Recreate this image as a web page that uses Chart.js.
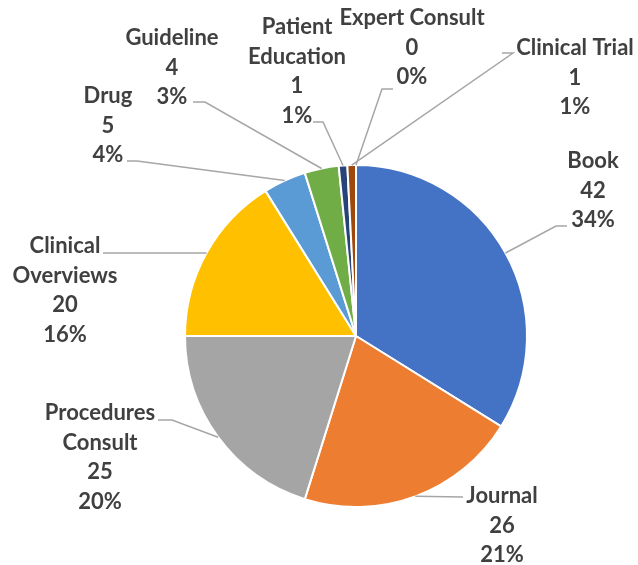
<!DOCTYPE html>
<html>
<head>
  <title>Content Type Pie</title>
  <script src="https://cdn.jsdelivr.net/npm/chart.js"></script>
  <style>
    body { margin: 0; background: #fff; }
  </style>
</head>
<body>
  <canvas id="pieChart" width="638" height="565"></canvas>
  <script>
    // data
    const categories = ['Book', 'Journal', 'Procedures Consult', 'Clinical Overviews', 'Drug',
                        'Guideline', 'Patient Education', 'Clinical Trial', 'Expert Consult'];
    const counts = [42, 26, 25, 20, 5, 4, 1, 1, 0];
    const nameLines = [['Book'], ['Journal'], ['Procedures', 'Consult'], ['Clinical', 'Overviews'], ['Drug'],
                       ['Guideline'], ['Patient', 'Education'], ['Clinical Trial'], ['Expert Consult']];
    const colors = ['#4472C4', '#ED7D31', '#A5A5A5', '#FFC000', '#5B9BD5',
                    '#70AD47', '#264478', '#9E480E', '#636363'];

    // label layout (centre x, first line y) and leader line (label end, elbow)
    const labelPos = [[593, 161], [502, 496], [100, 413], [65, 246], [108, 96],
                      [172, 38], [297, 27], [575, 48], [412, 18]];
    const leaders = [
      [[567, 226], [556, 226]],
      [[463, 497], null],
      [[158, 420], [172, 420]],
      [[103, 253], null],
      [[127, 161], [137, 161]],
      [[193, 102], [205, 102]],
      [[313, 122], [323, 122]],
      [[502, 53], [513, 53]],
      [[393, 89], [382, 89]]
    ];

    const total = counts.reduce((a, b) => a + b, 0);

    const labelPlugin = {
      id: 'pieLabels',
      afterDraw(chart) {
        const ctx = chart.ctx;
        const arcs = chart.getDatasetMeta(0).data;
        ctx.save();
        // leader lines
        ctx.strokeStyle = '#A6A6A6';
        ctx.lineWidth = 1.5;
        arcs.forEach((arc, i) => {
          const mid = (arc.startAngle + arc.endAngle) / 2;
          const ax = arc.x + Math.cos(mid) * arc.outerRadius;
          const ay = arc.y + Math.sin(mid) * arc.outerRadius;
          const [end, elbow] = leaders[i];
          ctx.beginPath();
          ctx.moveTo(end[0], end[1]);
          if (elbow) ctx.lineTo(elbow[0], elbow[1]);
          ctx.lineTo(ax, ay);
          ctx.stroke();
        });
        // texts
        ctx.fillStyle = '#404040';
        ctx.font = 'bold 22px Lato';
        ctx.textAlign = 'center';
        ctx.textBaseline = 'middle';
        arcs.forEach((arc, i) => {
          const lines = nameLines[i].concat([String(counts[i]), Math.round(counts[i] / total * 100) + '%']);
          lines.forEach((t, k) => {
            ctx.fillText(t, labelPos[i][0], labelPos[i][1] + k * 29.5);
          });
        });
        ctx.restore();
      }
    };

    const ctx = document.getElementById('pieChart').getContext('2d');
    const pieChart = new Chart(ctx, {
      type: 'pie',
      data: {
        labels: categories,
        datasets: [{
          data: counts,
          backgroundColor: colors,
          borderColor: '#ffffff',
          borderWidth: 2
        }]
      },
      options: {
        responsive: false,
        animation: false,
        layout: { padding: { left: 184, right: 110, top: 164, bottom: 57 } },
        plugins: {
          legend: { display: false },
          tooltip: { enabled: false }
        }
      },
      plugins: [labelPlugin]
    });
  </script>
</body>
</html>
